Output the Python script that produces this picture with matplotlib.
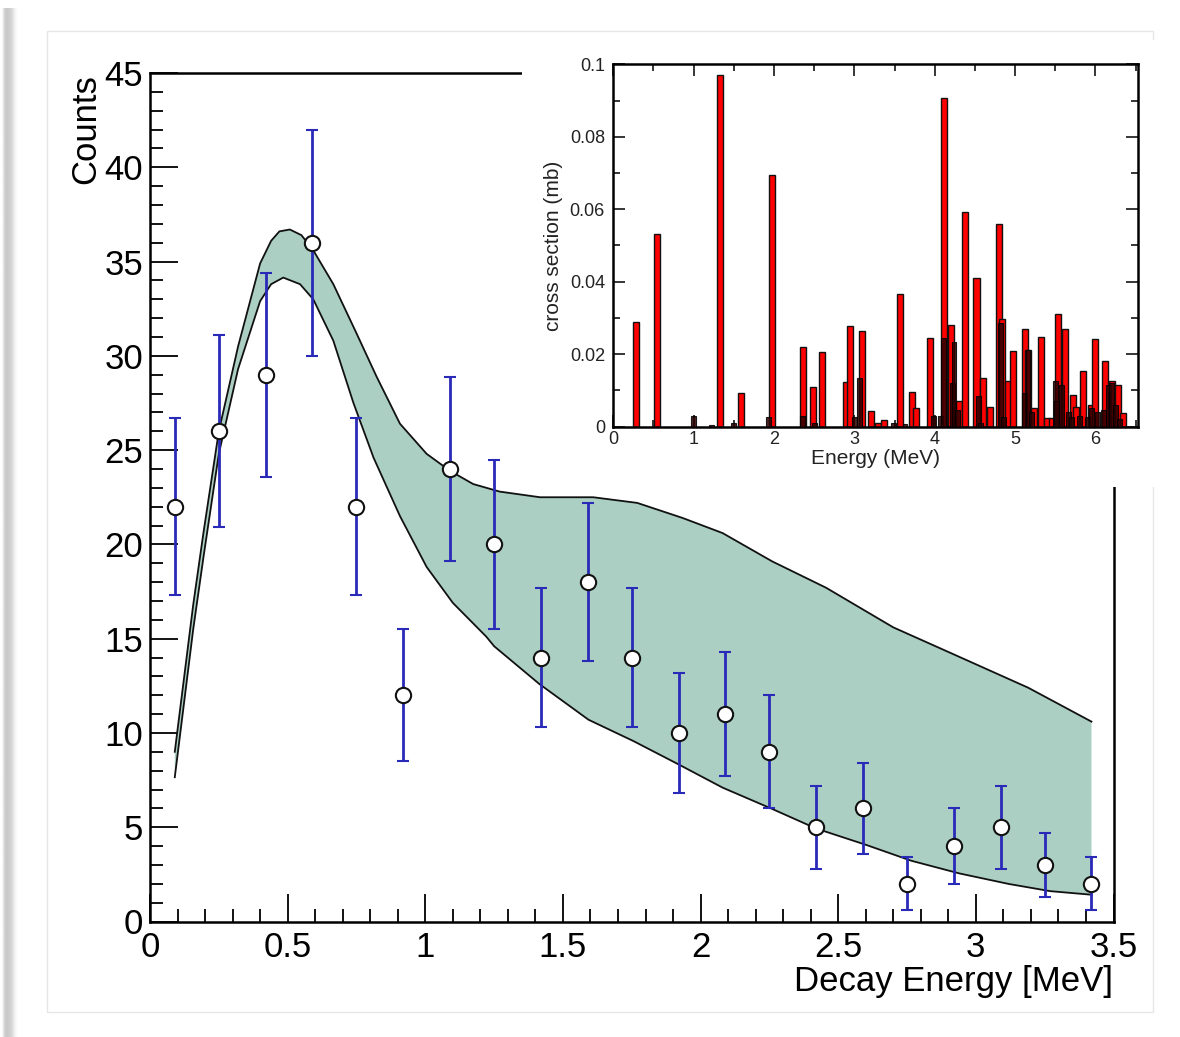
import numpy as np
import matplotlib
matplotlib.use("Agg")
import matplotlib.pyplot as plt
from matplotlib.patches import Rectangle
from matplotlib.ticker import MultipleLocator

plt.rcParams['font.family'] = ['Liberation Sans', 'DejaVu Sans']

# ---- measured decay-energy spectrum -------------------------------------
decay_energy = [0.09, 0.25, 0.42, 0.59, 0.75, 0.92, 1.09, 1.25, 1.42, 1.59, 1.75,
                1.92, 2.09, 2.25, 2.42, 2.59, 2.75, 2.92, 3.09, 3.25, 3.42]
counts = [22, 26, 29, 36, 22, 12, 24, 20, 14, 18, 14, 10, 11, 9, 5, 6, 2, 4, 5, 3, 2]
count_err = [4.7, 5.1, 5.4, 6.0, 4.7, 3.5, 4.9, 4.5, 3.7, 4.2, 3.7, 3.2, 3.3, 3.0,
             2.2, 2.4, 1.4, 2.0, 2.2, 1.7, 1.4]

# ---- model band (upper / lower envelope) --------------------------------
band_upper_x = [0.09, 0.157, 0.194, 0.25, 0.32, 0.40, 0.44, 0.47, 0.508, 0.55, 0.593,
                0.666, 0.75, 0.823, 0.908, 1.005, 1.09, 1.174, 1.27, 1.417, 1.61,
                1.77, 1.935, 2.08, 2.26, 2.456, 2.70, 2.93, 3.19, 3.42]
band_upper_y = [9.0, 16.8, 20.6, 26.0, 30.5, 34.9, 36.1, 36.6, 36.7, 36.4, 35.6,
                33.8, 31.2, 28.9, 26.4, 24.8, 23.9, 23.2, 22.8, 22.5, 22.5,
                22.2, 21.4, 20.6, 19.1, 17.7, 15.6, 14.1, 12.4, 10.6]
band_lower_x = [0.09, 0.157, 0.194, 0.25, 0.32, 0.40, 0.44, 0.484, 0.545, 0.593,
                0.666, 0.739, 0.812, 0.908, 1.005, 1.10, 1.222, 1.25, 1.414, 1.593,
                1.756, 1.919, 2.08, 2.26, 2.42, 2.60, 2.766, 2.94, 3.12, 3.27, 3.42]
band_lower_y = [7.65, 15.5, 19.3, 24.8, 29.3, 32.9, 33.8, 34.15, 33.8, 33.0,
                30.8, 27.5, 24.6, 21.5, 18.8, 16.9, 15.1, 14.6, 12.6, 10.7,
                9.57, 8.34, 7.10, 5.97, 4.93, 4.07, 3.22, 2.55, 1.99, 1.61, 1.42]

# ---- inset: level cross sections ----------------------------------------
level_energy = [0.28, 0.54, 1.33, 1.59, 1.98, 2.36, 2.49, 2.60, 2.90, 2.95, 3.10,
                3.21, 3.30, 3.37, 3.57, 3.72, 3.77, 3.94, 4.11, 4.20, 4.30, 4.38,
                4.52, 4.60, 4.69, 4.80, 4.84, 4.91, 4.98, 5.12, 5.16, 5.24, 5.32,
                5.40, 5.46, 5.54, 5.62, 5.72, 5.76, 5.85, 5.94, 5.99, 6.12, 6.21,
                6.28, 6.34]
level_xsec = [0.0288, 0.0531, 0.0971, 0.0093, 0.0695, 0.0219, 0.0108, 0.0205, 0.0122,
              0.0278, 0.0265, 0.0043, 0.0010, 0.0017, 0.0365, 0.0096, 0.0050, 0.0245,
              0.0908, 0.0280, 0.0070, 0.0592, 0.0409, 0.0133, 0.0054, 0.0560, 0.0297,
              0.0127, 0.0209, 0.0270, 0.0212, 0.0052, 0.0246, 0.0023, 0.0023, 0.0310,
              0.0270, 0.0087, 0.0053, 0.0154, 0.0058, 0.0241, 0.0180, 0.0127, 0.0115,
              0.0036]
weak_energy = [1.00, 1.22, 1.50, 1.93, 2.35, 2.50, 3.00, 3.06, 3.49, 3.63, 3.99, 4.07,
               4.11, 4.22, 4.24, 4.28, 4.54, 4.57, 4.82, 4.86, 5.12, 5.16, 5.20, 5.50,
               5.52, 5.58, 5.66, 5.70, 5.80, 5.90, 5.95, 6.03, 6.10, 6.16, 6.20, 6.25,
               6.30]
weak_xsec = [0.0028, 0.0005, 0.0010, 0.0025, 0.0030, 0.0010, 0.0025, 0.0134, 0.0010,
             0.0006, 0.0030, 0.0030, 0.0245, 0.0120, 0.0233, 0.0045, 0.0085, 0.0010,
             0.0285, 0.0025, 0.0093, 0.0210, 0.0040, 0.0125, 0.0070, 0.0115, 0.0040,
             0.0025, 0.0030, 0.0025, 0.0050, 0.0040, 0.0045, 0.0115, 0.0120, 0.0060,
             0.0020]

main_xticklabels = ['0', '0.5', '1', '1.5', '2', '2.5', '3', '3.5']
inset_yticklabels = ['0', '0.02', '0.04', '0.06', '0.08', '0.1']

W, H = 1180, 1037
fig = plt.figure(figsize=(W / 100, H / 100), dpi=100)
fig.patch.set_facecolor('white')


def fx(px):
    return px / W


def fy(py):
    return 1 - py / H


# soft page shadow along the left edge
shade = fig.add_axes([0, 0, fx(22), 1 - 8 / H])
shade.axis('off')
cols = np.array([1.0, 1.0, 0.97, 0.9, 0.84, 0.8, 0.79, 0.79, 0.8, 0.81, 0.82, 0.84,
                 0.87, 0.9, 0.93, 0.96, 0.98, 0.99, 1.0, 1.0, 1.0, 1.0])
shade.imshow(cols[None, :], cmap='gray', vmin=0, vmax=1, aspect='auto',
             extent=[0, 1, 0, 1], interpolation='bilinear')

# faint page frame
fig.patches.append(Rectangle((fx(47), fy(1012)), (1153 - 47) / W, (1012 - 31) / H,
                             transform=fig.transFigure, fill=False,
                             ec='#e6e6e6', lw=1.0, zorder=0))

# ---- main spectrum ------------------------------------------------------
ax = fig.add_axes([fx(150), fy(921.5), 963.5 / W, 848.5 / H])
ax.set_xlim(0, 3.5)
ax.set_ylim(0, 45)

ux, uy = np.asarray(band_upper_x), np.asarray(band_upper_y)
lx, ly = np.asarray(band_lower_x), np.asarray(band_lower_y)
ax.fill(np.r_[ux, lx[::-1]], np.r_[uy, ly[::-1]], color='#accfc3', lw=0, zorder=1)
ax.plot(ux, uy, color='#111111', lw=1.3, zorder=2)
ax.plot(lx, ly, color='#111111', lw=1.3, zorder=2)

ax.errorbar(decay_energy, counts, yerr=count_err, fmt='o', ms=11,
            mfc='white', mec='#111111', mew=1.5, ecolor='#2a2ab8',
            elinewidth=2.0, capsize=4, capthick=2.0, zorder=3)

for s in ax.spines.values():
    s.set_linewidth(1.8)
ax.xaxis.set_major_locator(MultipleLocator(0.5))
ax.xaxis.set_minor_locator(MultipleLocator(0.1))
ax.yaxis.set_major_locator(MultipleLocator(5))
ax.yaxis.set_minor_locator(MultipleLocator(1))
ax.set_xticks(np.arange(0, 3.51, 0.5))
ax.set_xticklabels(main_xticklabels)
ax.tick_params(which='both', direction='in', top=False, right=False, width=1.3,
               labelsize=25)
ax.tick_params(which='major', length=20)
ax.tick_params(which='minor', length=9.5)
ax.tick_params(axis='x', pad=7)
ax.tick_params(axis='y', pad=5)

fig.text(fx(1113.5), fy(991), 'Decay Energy [MeV]', ha='right', va='baseline',
         fontsize=25)
fig.text(fx(86), fy(74), 'Counts', rotation=90, ha='center', va='top', fontsize=25)

# white panel that carries the inset
cover = fig.add_axes([fx(522), fy(487), (1165 - 522) / W, (487 - 40) / H])
cover.set_facecolor('white')
cover.set_xticks([])
cover.set_yticks([])
for s in cover.spines.values():
    s.set_visible(False)
cover.set_zorder(2)

# ---- inset: cross sections ----------------------------------------------
ins = fig.add_axes([fx(613.3), fy(426.5), (1138 - 613.3) / W, (426.5 - 64.3) / H])
ins.set_zorder(3)
ins.set_xlim(0, 6.53)
ins.set_ylim(0, 0.1)
ins.bar(level_energy, level_xsec, width=0.075, color='#ff0000', edgecolor='#111111',
        lw=1.0, zorder=2)
ins.bar(weak_energy, weak_xsec, width=0.06, color='#2a0000', edgecolor='#000000',
        lw=0.8, alpha=0.85, zorder=3)
for s in ins.spines.values():
    s.set_linewidth(1.8)
ins.xaxis.set_major_locator(MultipleLocator(1))
ins.xaxis.set_minor_locator(MultipleLocator(0.5))
ins.set_yticks(np.arange(0, 0.101, 0.02))
ins.set_yticklabels(inset_yticklabels)
ins.yaxis.set_minor_locator(MultipleLocator(0.01))
ins.tick_params(which='both', direction='in', top=True, right=True, width=1.1,
                labelsize=13, labelcolor='#222222')
ins.tick_params(which='major', length=8.5)
ins.tick_params(which='minor', length=5)
ins.tick_params(axis='x', pad=3)
ins.tick_params(axis='y', pad=6)
ins.set_xlabel('Energy (MeV)', fontsize=15, labelpad=1, color='#222222')
ins.set_ylabel('cross section (mb)', fontsize=15, labelpad=5, color='#222222')

fig.savefig('out.png', dpi=100, facecolor='white')
